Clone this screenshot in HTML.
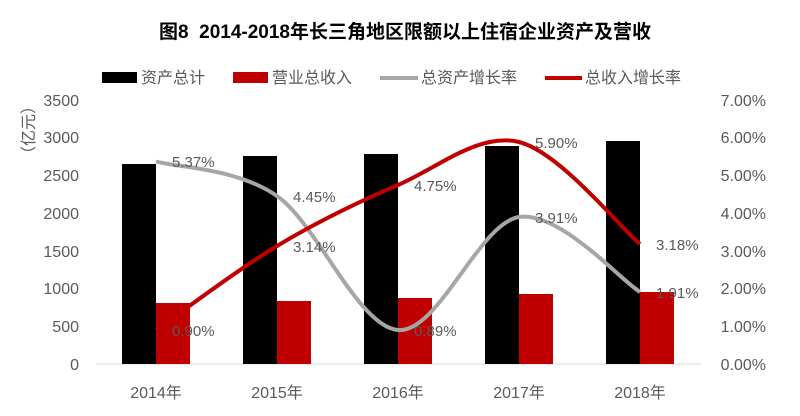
<!DOCTYPE html><html><head><meta charset="utf-8"><style>body{margin:0;background:#fff}svg text{font-family:"Liberation Sans","Noto Sans CJK SC",sans-serif}</style></head><body>
<svg width="800" height="411" xmlns="http://www.w3.org/2000/svg">
<text x="405" y="38" text-anchor="middle" font-size="19" font-weight="bold" fill="#000">图8&#160;&#160;2014-2018年长三角地区限额以上住宿企业资产及营收</text>
<rect x="102" y="72" width="35" height="11" fill="#000"/><text x="141" y="83" font-size="16" fill="#595959">资产总计</text>
<rect x="233" y="72" width="35" height="11" fill="#c00000"/><text x="272" y="83" font-size="16" fill="#595959">营业总收入</text>
<line x1="380" y1="78" x2="418" y2="78" stroke="#a6a6a6" stroke-width="4"/><text x="421" y="83" font-size="16" fill="#595959">总资产增长率</text>
<line x1="545" y1="78" x2="582" y2="78" stroke="#c00000" stroke-width="4"/><text x="585" y="83" font-size="16" fill="#595959">总收入增长率</text>
<g font-size="16" fill="#595959" text-anchor="end">
<text x="79" y="370">0</text><text x="79" y="332">500</text><text x="79" y="294">1000</text><text x="79" y="257">1500</text><text x="79" y="219">2000</text><text x="79" y="181">2500</text><text x="79" y="143">3000</text><text x="79" y="106">3500</text>
</g>
<g font-size="16" fill="#595959" text-anchor="end">
<text x="766" y="370">0.00%</text><text x="766" y="332">1.00%</text><text x="766" y="294">2.00%</text><text x="766" y="257">3.00%</text><text x="766" y="219">4.00%</text><text x="766" y="181">5.00%</text><text x="766" y="143">6.00%</text><text x="766" y="106">7.00%</text>
</g>
<text transform="translate(34,130) rotate(-90)" text-anchor="middle" font-size="16" fill="#595959">（亿元）</text>
<line x1="96" y1="364" x2="701" y2="364" stroke="#d9d9d9" stroke-width="1"/>
<g fill="#000"><rect x="122" y="164" width="34" height="200"/><rect x="243" y="156" width="34" height="208"/><rect x="364" y="154" width="34" height="210"/><rect x="485" y="146" width="34" height="218"/><rect x="606" y="141" width="34" height="223"/></g>
<g fill="#c00000"><rect x="156" y="303" width="34" height="61"/><rect x="277" y="301" width="34" height="63"/><rect x="398" y="298" width="34" height="66"/><rect x="519" y="294" width="34" height="70"/><rect x="640" y="292" width="34" height="72"/></g>
<path d="M156,161.5 C176,167.3 236.7,167.9 277,196 C317.3,224.1 357.7,326.5 398,330 C438.3,333.5 478.7,223.3 519,217 C559.3,210.7 619.8,279.5 640,292" fill="none" stroke="#a6a6a6" stroke-width="4"/>
<path d="M156,330 C176.2,316 236.7,270.2 277,246 C317.3,221.8 357.7,202.3 398,185 C438.3,167.7 478.7,132.2 519,142 C559.3,151.8 619.8,227 640,244" fill="none" stroke="#c00000" stroke-width="4"/>
<g font-size="15" fill="#595959">
<text x="172" y="167">5.37%</text><text x="293" y="202">4.45%</text><text x="414" y="336">0.89%</text><text x="535" y="223">3.91%</text><text x="656" y="298">1.91%</text>
<text x="172" y="336">0.90%</text><text x="293" y="252">3.14%</text><text x="414" y="191">4.75%</text><text x="535" y="148">5.90%</text><text x="656" y="250">3.18%</text>
</g>
<g font-size="16" fill="#595959" text-anchor="middle">
<text x="156" y="398">2014年</text><text x="277" y="398">2015年</text><text x="398" y="398">2016年</text><text x="519" y="398">2017年</text><text x="640" y="398">2018年</text>
</g>
</svg></body></html>
